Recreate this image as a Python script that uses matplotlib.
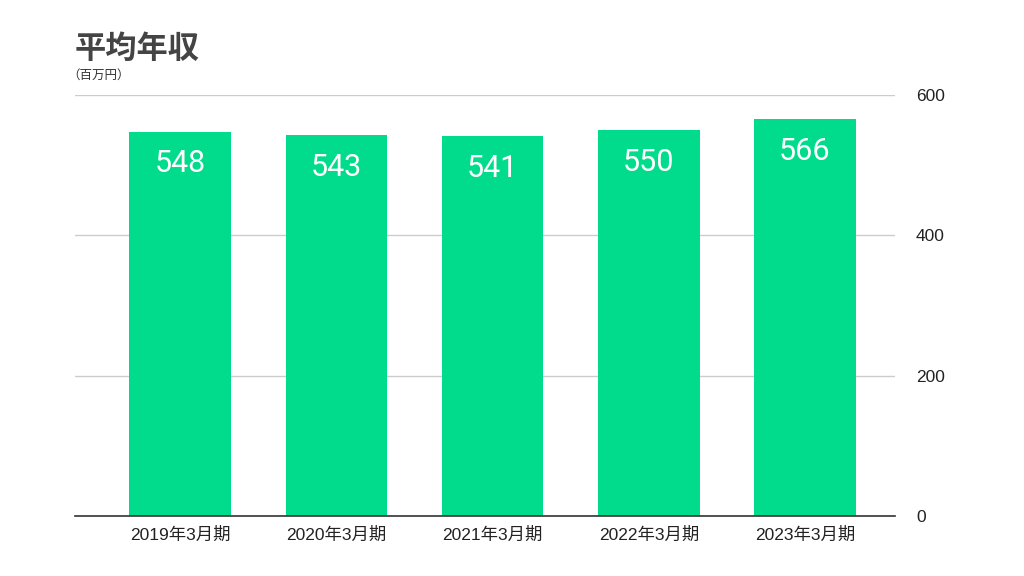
import matplotlib
matplotlib.use('Agg')
import matplotlib.pyplot as plt
import numpy as np

plt.rcParams['font.family'] = ['Roboto', 'Noto Sans CJK JP', 'DejaVu Sans']

# Datos del gráfico
periodos = ['2019年3月期', '2020年3月期', '2021年3月期', '2022年3月期', '2023年3月期']
salario_medio = [548, 543, 541, 550, 566]
ticks_y = [0, 200, 400, 600]

fig = plt.figure(figsize=(10.24, 5.76), dpi=100)
ax = fig.add_axes([0.0732, 0.104, 0.801, 0.731])

x = np.arange(len(periodos))
barras = ax.bar(x, salario_medio, width=0.65, color='#00DC8C', zorder=3)

# Etiquetas dentro de las barras
for xi, v in zip(x, salario_medio):
    ax.text(xi, v - 46, str(v), ha='center', va='center', color='white',
            fontsize=22, zorder=4)

fuente_ticks = ['Liberation Sans', 'Noto Sans CJK JP', 'DejaVu Sans']
ax.set_xlim(-0.673, 4.577)
ax.set_ylim(0, 600)
ax.set_xticks(x)
ax.set_xticklabels(periodos, fontsize=12.5, color='#222222', family=fuente_ticks)
ax.set_yticks(ticks_y)
ax.set_yticklabels([str(t) for t in ticks_y], fontsize=12.5, color='#222222',
                   family=fuente_ticks)
ax.yaxis.tick_right()
ax.tick_params(axis='x', length=0, pad=8)
ax.tick_params(axis='y', length=0, pad=15)

ax.grid(axis='y', color='#cccccc', linewidth=1, zorder=0)
for s in ['top', 'left', 'right']:
    ax.spines[s].set_visible(False)
ax.spines['bottom'].set_color('#333333')
ax.spines['bottom'].set_linewidth(1.2)
ax.spines['bottom'].set_zorder(5)

fig.text(0.0732, 0.915, '平均年収', fontsize=22.5, fontweight='bold', color='#444444',
         ha='left', va='center', family=['Noto Sans CJK JP', 'DejaVu Sans'])
fig.text(0.066, 0.869, '（百万円）', fontsize=9, color='#333333',
         ha='left', va='center', family=['Noto Sans CJK JP', 'DejaVu Sans'])

fig.savefig('out.png', dpi=100, facecolor='white')
